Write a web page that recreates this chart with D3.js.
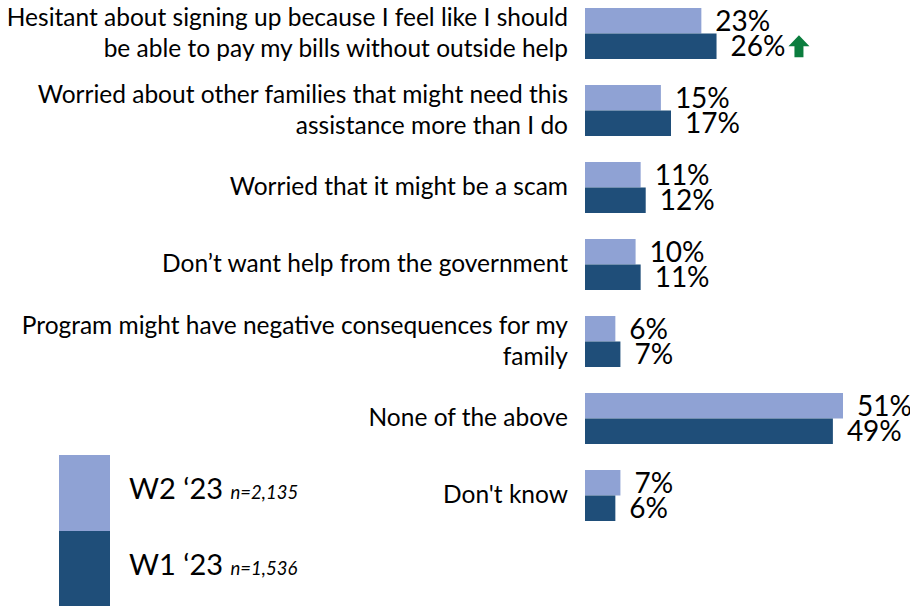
<!DOCTYPE html>
<html><head><meta charset="utf-8">
<script src="https://cdn.jsdelivr.net/npm/d3@7"></script>
<style>body{margin:0;background:#fff}svg{display:block}</style>
</head><body>
<svg id="c" width="910" height="606"></svg>
<script>
const categories = [
  ["Hesitant about signing up because I feel like I should", "be able to pay my bills without outside help"],
  ["Worried about other families that might need this", "assistance more than I do"],
  ["Worried that it might be a scam"],
  ["Don\u2019t want help from the government"],
  ["Program might have negative consequences for my", "family"],
  ["None of the above"],
  ["Don't know"]
];
const seriesNames = ["W2 \u201823", "W1 \u201823"];
const seriesN = ["n=2,135", "n=1,536"];
const w2 = [23, 15, 11, 10, 6, 51, 7];
const w1 = [26, 17, 12, 11, 7, 49, 6];
const sigUp = [true, false, false, false, false, false, false]; // W1 significant increase marker

const colors = ["#8FA2D4", "#1F4E79"];
const font = "Lato, 'Open Sans', sans-serif";
const valSize = 28;

const svg = d3.select("#c");
const ids = categories.map((d, i) => i);
const x = d3.scaleLinear().domain([0, 51]).range([585, 843]);
const y = d3.scaleBand().domain(ids).range([-5, 534]).paddingInner(26/77).paddingOuter(13/77);
const ys = d3.scaleBand().domain([0, 1]).range([0, y.bandwidth()]);

const series = [w2, w1];
series.forEach((vals, s) => {
  svg.append("g").selectAll("rect").data(vals).join("rect")
    .attr("x", x(0))
    .attr("y", (d, i) => y(i) + ys(s))
    .attr("width", d => x(d) - x(0))
    .attr("height", ys.bandwidth())
    .attr("fill", colors[s]);
  svg.append("g").selectAll("text").data(vals).join("text")
    .attr("x", d => x(d) + 14)
    .attr("y", (d, i) => y(i) + ys(s) + ys.bandwidth() / 2)
    .attr("dy", "0.36em")
    .attr("font-family", font)
    .attr("font-size", valSize)
    .attr("fill", "#000")
    .text(d => d + "%");
});

// significance arrows
w1.forEach((d, i) => {
  if (!sigUp[i]) return;
  const tx = x(d) + 14;
  const tmp = svg.append("text").attr("font-family", font).attr("font-size", valSize).text(d + "%");
  const w = tmp.node().getComputedTextLength();
  tmp.remove();
  const ax = tx + w + 3;
  const cy = y(i) + ys(1) + ys.bandwidth() / 2;
  svg.append("path")
    .attr("d", `M${ax},${cy} L${ax+10.5},${cy-11} L${ax+21},${cy} L${ax+15},${cy} L${ax+15},${cy+11} L${ax+6},${cy+11} L${ax+6},${cy} Z`)
    .attr("fill", "#0B7D3E");
});

// category labels
const lab = svg.append("g");
categories.forEach((lines, i) => {
  const cy = y(i) + y.bandwidth() / 2;
  const lh = 31;
  lines.forEach((t, j) => {
    lab.append("text")
      .attr("x", 568)
      .attr("y", cy + (j - (lines.length - 1) / 2) * lh - 1)
      .attr("dy", "0.36em")
      .attr("text-anchor", "end")
      .attr("font-family", font)
      .attr("font-size", 24.5)
      .attr("fill", "#000")
      .text(t);
  });
});

// legend
const ly = d3.scaleBand().domain([0, 1]).range([455, 607]);
const leg = svg.append("g");
seriesNames.forEach((n, s) => {
  leg.append("rect").attr("x", 59).attr("y", ly(s)).attr("width", 51).attr("height", ly.bandwidth()).attr("fill", colors[s]);
  const t = leg.append("text").attr("x", 129).attr("y", ly(s) + ly.bandwidth() / 2).attr("dy", "0.36em")
    .attr("font-family", font).attr("fill", "#000");
  t.append("tspan").attr("font-size", 29).text(n + " ");
  t.append("tspan").attr("font-size", 18.5).attr("font-style", "italic").text(seriesN[s]);
});
</script>
</body></html>
